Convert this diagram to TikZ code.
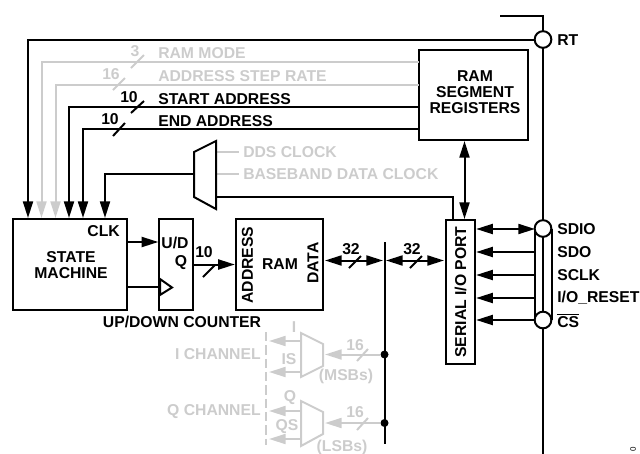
\documentclass[tikz,border=0pt]{standalone}
\usepackage{fontspec}
\setmainfont{Liberation Sans}
\usepackage{xcolor}
\usetikzlibrary{arrows.meta, calc}
\definecolor{fadegray}{RGB}{204,204,204}

\begin{document}
\begin{tikzpicture}[x=0.75pt, y=-0.75pt, >={Triangle[length=12.5pt, width=7.5pt]},
  block/.style={draw, line width=1.5pt, inner sep=0pt, fill=white, align=center},
  lbl/.style={inner sep=0pt, align=center, font=\fontsize{11.8}{12}\selectfont\bfseries},
  lblfade/.style={lbl, text=fadegray},
  wire/.style={line width=1.5pt},
  wirefade/.style={line width=1.5pt, fadegray},
  pad/.style={circle, draw, line width=1.5pt, fill=white, minimum size=12.5pt, inner sep=0pt},
  junct/.style={circle, fill=black, minimum size=6pt, inner sep=0pt}]

\useasboundingbox (0,0) rectangle (640,454);

% blocks
\node[block, minimum width=85.5pt, minimum height=68.5pt] (sm) at (70,264.5) {};
\node[block, minimum width=25pt, minimum height=68.5pt] (cnt) at (176,264.5) {};
\node[block, minimum width=65.5pt, minimum height=68.5pt] (ram) at (279.5,264.5) {};
\node[block, minimum width=82pt, minimum height=67.5pt] (regs) at (473.5,95) {};
\node[block, minimum width=22pt, minimum height=108pt] (sport) at (460.5,292) {};

\node[lbl] (regstxt) at (475,92) {RAM\\SEGMENT\\REGISTERS};
\node[lbl] (smtxt) at (71,265) {STATE\\MACHINE};
\node[lbl, anchor=east] (clk) at (120,231) {CLK};
\node[lbl] (ud) at (175,243) {U/D};
\node[lbl] (qout) at (181,263) {Q};
\node[lbl, rotate=90] (addr) at (247.5,265) {ADDRESS};
\node[lbl] (ramtxt) at (280,264) {RAM};
\node[lbl, rotate=90] (data) at (313,263) {DATA};
\node[lbl, rotate=90] (sporttxt) at (460.5,292) {SERIAL I/O PORT};
\node[lbl] (cnttxt) at (182,322) {UP/DOWN COUNTER};

% pin rail
\coordinate (railtop) at (500,16);
\coordinate (railbot) at (543,454);
\coordinate (railcorner) at (543,16);
\coordinate (sdiol) at (535,229); \coordinate (csl) at (535,320);
\coordinate (sdior) at (551.5,229); \coordinate (csr) at (551.5,320);
\draw[wire] (railtop) -- (railcorner) -- (railbot);
\draw[wire] (sdiol) -- (csl); \draw[wire] (sdior) -- (csr);
\node[pad] (rtpad) at (543,39.5) {};
\node[pad] (sdiopad) at (543,228.5) {};
\node[pad] (cspad) at (543,320) {};

\node[lbl, anchor=west] (rt) at (557,40.5) {RT};
\node[lbl, anchor=west] (sdio) at (557,229) {SDIO};
\node[lbl, anchor=west] (sdo) at (557,252.5) {SDO};
\node[lbl, anchor=west] (sclk) at (557,275) {SCLK};
\node[lbl, anchor=west] (iorst) at (557,298) {I/O\_RESET};
\node[lbl, anchor=west] (cs) at (557,320.5) {$\overline{\mbox{CS}}$};

% control lines from the registers
\coordinate (ramin) at (41.5,218); \coordinate (stepin) at (55.5,218);
\coordinate (startin) at (69,218); \coordinate (endin) at (83,218);
\coordinate (rtin) at (28,218); \coordinate (clkin) at (105,218);
\coordinate (ramout) at (418.5,62); \coordinate (stepout) at (418.5,85);
\coordinate (startout) at (418.5,106.5); \coordinate (endout) at (418.5,129);
\draw[wirefade, ->] (ramout) -| (ramin);
\draw[wirefade, ->] (stepout) -| (stepin);
\draw[wire, ->] (startout) -| (startin);
\draw[wire, ->] (endout) -| (endin);
\draw[wire, ->] (rtpad) -| (rtin);

\draw[wirefade] (131,68) -- (144,55); \node[lblfade] (n3) at (135,51) {3};
\draw[wirefade] (113,90) -- (125,78); \node[lblfade] (n16a) at (111,74) {16};
\draw[wire] (131,113) -- (144,101); \node[lbl] (n10a) at (129,97) {10};
\draw[wire] (113,136) -- (125,123); \node[lbl] (n10b) at (110,119) {10};

\node[lblfade, anchor=west] (rammode) at (158,53) {RAM MODE};
\node[lblfade, anchor=west] (steprate) at (158,76.5) {ADDRESS STEP RATE};
\node[lbl, anchor=west] (startaddr) at (158,99.5) {START ADDRESS};
\node[lbl, anchor=west] (endaddr) at (158,121.5) {END ADDRESS};

% clock mux
\coordinate (muxl) at (194,174); \coordinate (muxout) at (216,197);
\coordinate (muxa) at (216,152); \coordinate (muxb) at (216,174);
\coordinate (ddsend) at (239,152); \coordinate (bbend) at (239,174);
\draw[wirefade] (muxa) -- (ddsend); \draw[wirefade] (muxb) -- (bbend);
\draw[wire] (194,152) -- (216,141) -- (216,209) -- (194,197) -- cycle;
\draw[wire, ->] (muxl) -| (clkin);
\draw[wire] (muxout) -| (sport.north -| 453,220);
\node[lblfade, anchor=west] (dds) at (243,152.5) {DDS CLOCK};
\node[lblfade, anchor=west] (bbclk) at (243,174.5) {BASEBAND DATA CLOCK};

% registers to serial port
\draw[wire, <->] (regs.south -| 464.5,0) -- (sport.north -| 464.5,0);

% state machine to counter
\draw[wire, ->] (sm.east |- 0,242) -- (cnt.west |- 0,242);
\coordinate (tickin) at (160,287);
\draw[wire] (sm.east |- tickin) -- (tickin);
\draw[wire] (160,279) -- (172,287.5) -- (160,295) -- cycle;

% counter to ram, ram to bus
\draw[wire, ->] (cnt.east |- 0,264.5) -- (ram.west |- 0,264.5);
\draw[wire] (203,277) -- (215,265); \node[lbl] (n10c) at (204,252) {10};

\coordinate (busl) at (384.5,260.5); \coordinate (bustop) at (384.5,242); \coordinate (busbot) at (384.5,444);
\draw[wire] (bustop) -- (busbot);
\coordinate (datal) at (325,260.5); \coordinate (datar) at (383,260.5);
\coordinate (portl) at (386,260.5); \coordinate (portr) at (444,260.5);
\draw[wire, <->] (datal) -- (datar);
\draw[wire, <->] (portl) -- (portr);
\draw[wire] (349,268) -- (361,256); \node[lbl] (n32a) at (351,249) {32};
\draw[wire] (410,268) -- (422,256); \node[lbl] (n32b) at (412,249) {32};

% serial pins
\draw[wire, <->] (sport.east |- sdiol) -- (sdiol);
\draw[wire, <-] (sport.east |- 0,252) -- (535,252);
\draw[wire, <-] (sport.east |- 0,275) -- (535,275);
\draw[wire, <-] (sport.east |- 0,298) -- (535,298);
\draw[wire, <-] (sport.east |- csl) -- (csl);

% I and Q channels
\node[junct] (ji) at (384.5,354.5) {};
\node[junct] (jq) at (384.5,423) {};
\coordinate (muxiin) at (325,354.5); \coordinate (muxqin) at (325,423);
\draw[wirefade] (301,333) -- (323,344) -- (323,366) -- (301,377) -- cycle;
\draw[wirefade] (301,401) -- (323,412) -- (323,434) -- (301,446) -- cycle;
\draw[wirefade, ->] (ji) -- (muxiin);
\draw[wirefade, ->] (jq) -- (muxqin);
\draw[wirefade] (357,361) -- (368,349); \node[lblfade] (n16b) at (355,345) {16};
\draw[wirefade] (357,430) -- (368,418); \node[lblfade] (n16c) at (355,412) {16};
\coordinate (ia) at (301,341); \coordinate (ib) at (301,372);
\coordinate (qa) at (301,411); \coordinate (qb) at (301,439);
\draw[wirefade, ->] (ia) -- (269,341);
\draw[wirefade, ->] (ib) -- (269,372);
\draw[wirefade, ->] (qa) -- (269,411);
\draw[wirefade, ->] (qb) -- (269,439);
\coordinate (chtop) at (266,332); \coordinate (chbot) at (266,445);
\draw[line width=1pt, fadegray, dash pattern=on 7pt off 3pt] (chtop) -- (chbot);
\node[lblfade] (itxt) at (294,327) {I};
\node[lblfade] (istxt) at (289,359) {IS};
\node[lblfade] (qtxt) at (290,398) {Q};
\node[lblfade] (qstxt) at (287,427) {QS};
\node[lblfade, anchor=east] (ichan) at (261,354.5) {I CHANNEL};
\node[lblfade, anchor=east] (qchan) at (261,411.5) {Q CHANNEL};
\node[lblfade] (msbs) at (346,376.5) {(MSBs)};
\node[lblfade] (lsbs) at (342,447.5) {(LSBs)};

\node[inner sep=0pt, rotate=90, font=\fontsize{6}{7}\selectfont] (fignum) at (633,449) {0};
\end{tikzpicture}
\end{document}
